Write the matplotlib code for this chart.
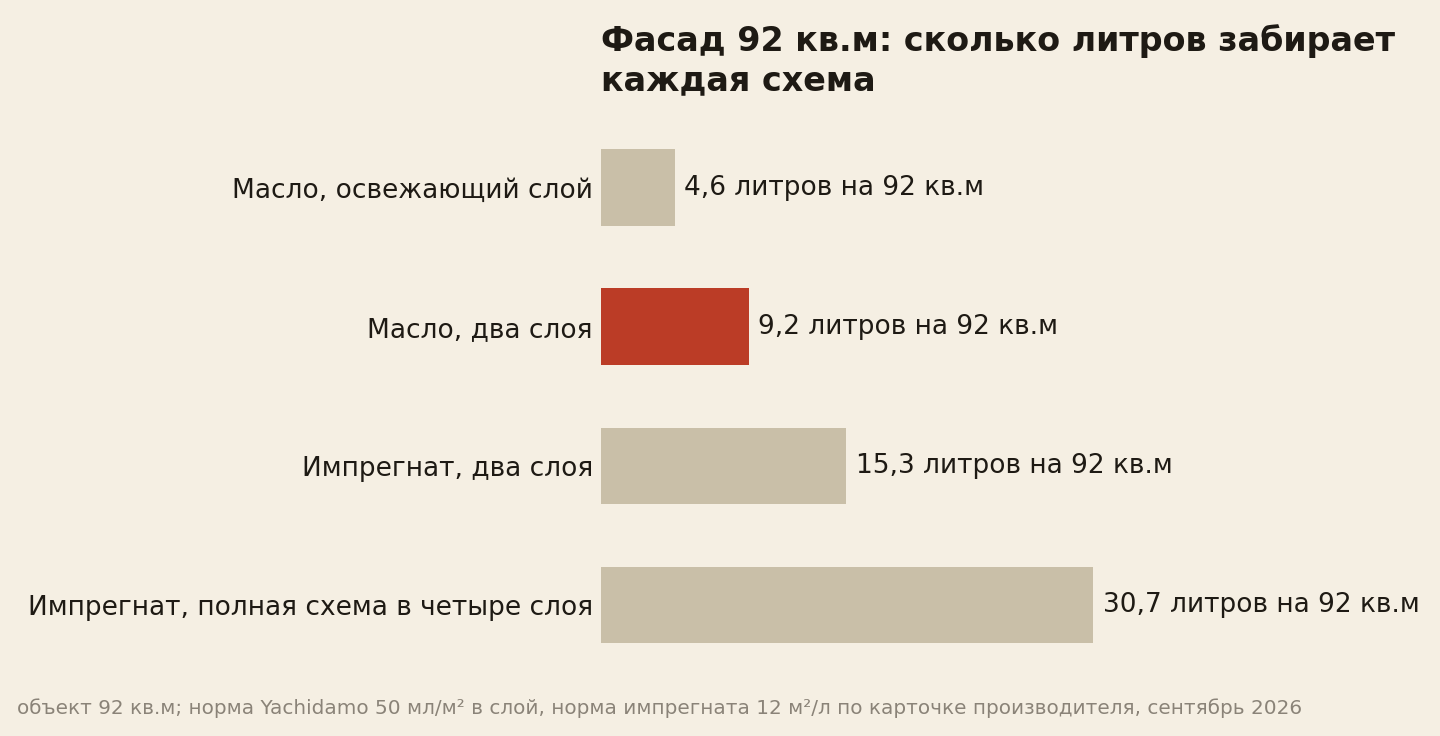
import matplotlib.pyplot as plt

categories = [
    "Масло, освежающий слой",
    "Масло, два слоя",
    "Импрегнат, два слоя",
    "Импрегнат, полная схема в четыре слоя",
]
litres = [4.6, 9.2, 15.3, 30.7]
value_labels = ["4,6 литров на 92 кв.м", "9,2 литров на 92 кв.м",
                "15,3 литров на 92 кв.м", "30,7 литров на 92 кв.м"]
highlight = 1

title = "Фасад 92 кв.м: сколько литров забирает\nкаждая схема"
note = ("объект 92 кв.м; норма Yachidamo 50 мл/м² в слой, норма импрегната "
        "12 м²/л по карточке производителя, сентябрь 2026")

BG = "#F5EFE3"
BAR = "#C9BFA8"
RED = "#BB3C26"
INK = "#1E1A14"
GREY = "#8A8378"

plt.rcParams['font.family'] = ['DejaVu Sans']

fig = plt.figure(figsize=(14.4, 7.36), dpi=100, facecolor=BG)
ax = fig.add_axes([601 / 1440, 1 - 674.5 / 736, 800 / 1440, 556.5 / 736])
ax.set_facecolor(BG)

colors = [RED if i == highlight else BAR for i in range(len(litres))]
ypos = list(range(len(categories)))
ax.barh(ypos, litres, height=0.55, color=colors)

ax.set_ylim(len(categories) - 0.5, -0.5)
ax.set_xlim(0, max(litres) * 1.625)
ax.set_yticks(ypos)
ax.set_yticklabels(categories, fontsize=19, color=INK)
ax.tick_params(axis='y', length=0, pad=5.8)
ax.set_xticks([])
for s in ax.spines.values():
    s.set_visible(False)

for y, v, lab in zip(ypos, litres, value_labels):
    ax.annotate(lab, (v, y), xytext=(7, 0), textcoords='offset points',
                va='center', ha='left', fontsize=19, color=INK)

fig.text(601 / 1440, 1 - 24 / 736, title, ha='left', va='top',
         fontsize=24, fontweight='bold', color=INK, linespacing=1.23)
fig.text(17 / 1440, 1 - 714 / 736, note, ha='left', va='baseline',
         fontsize=14.4, color=GREY)

fig.savefig("out.png", dpi=100, facecolor=BG)
